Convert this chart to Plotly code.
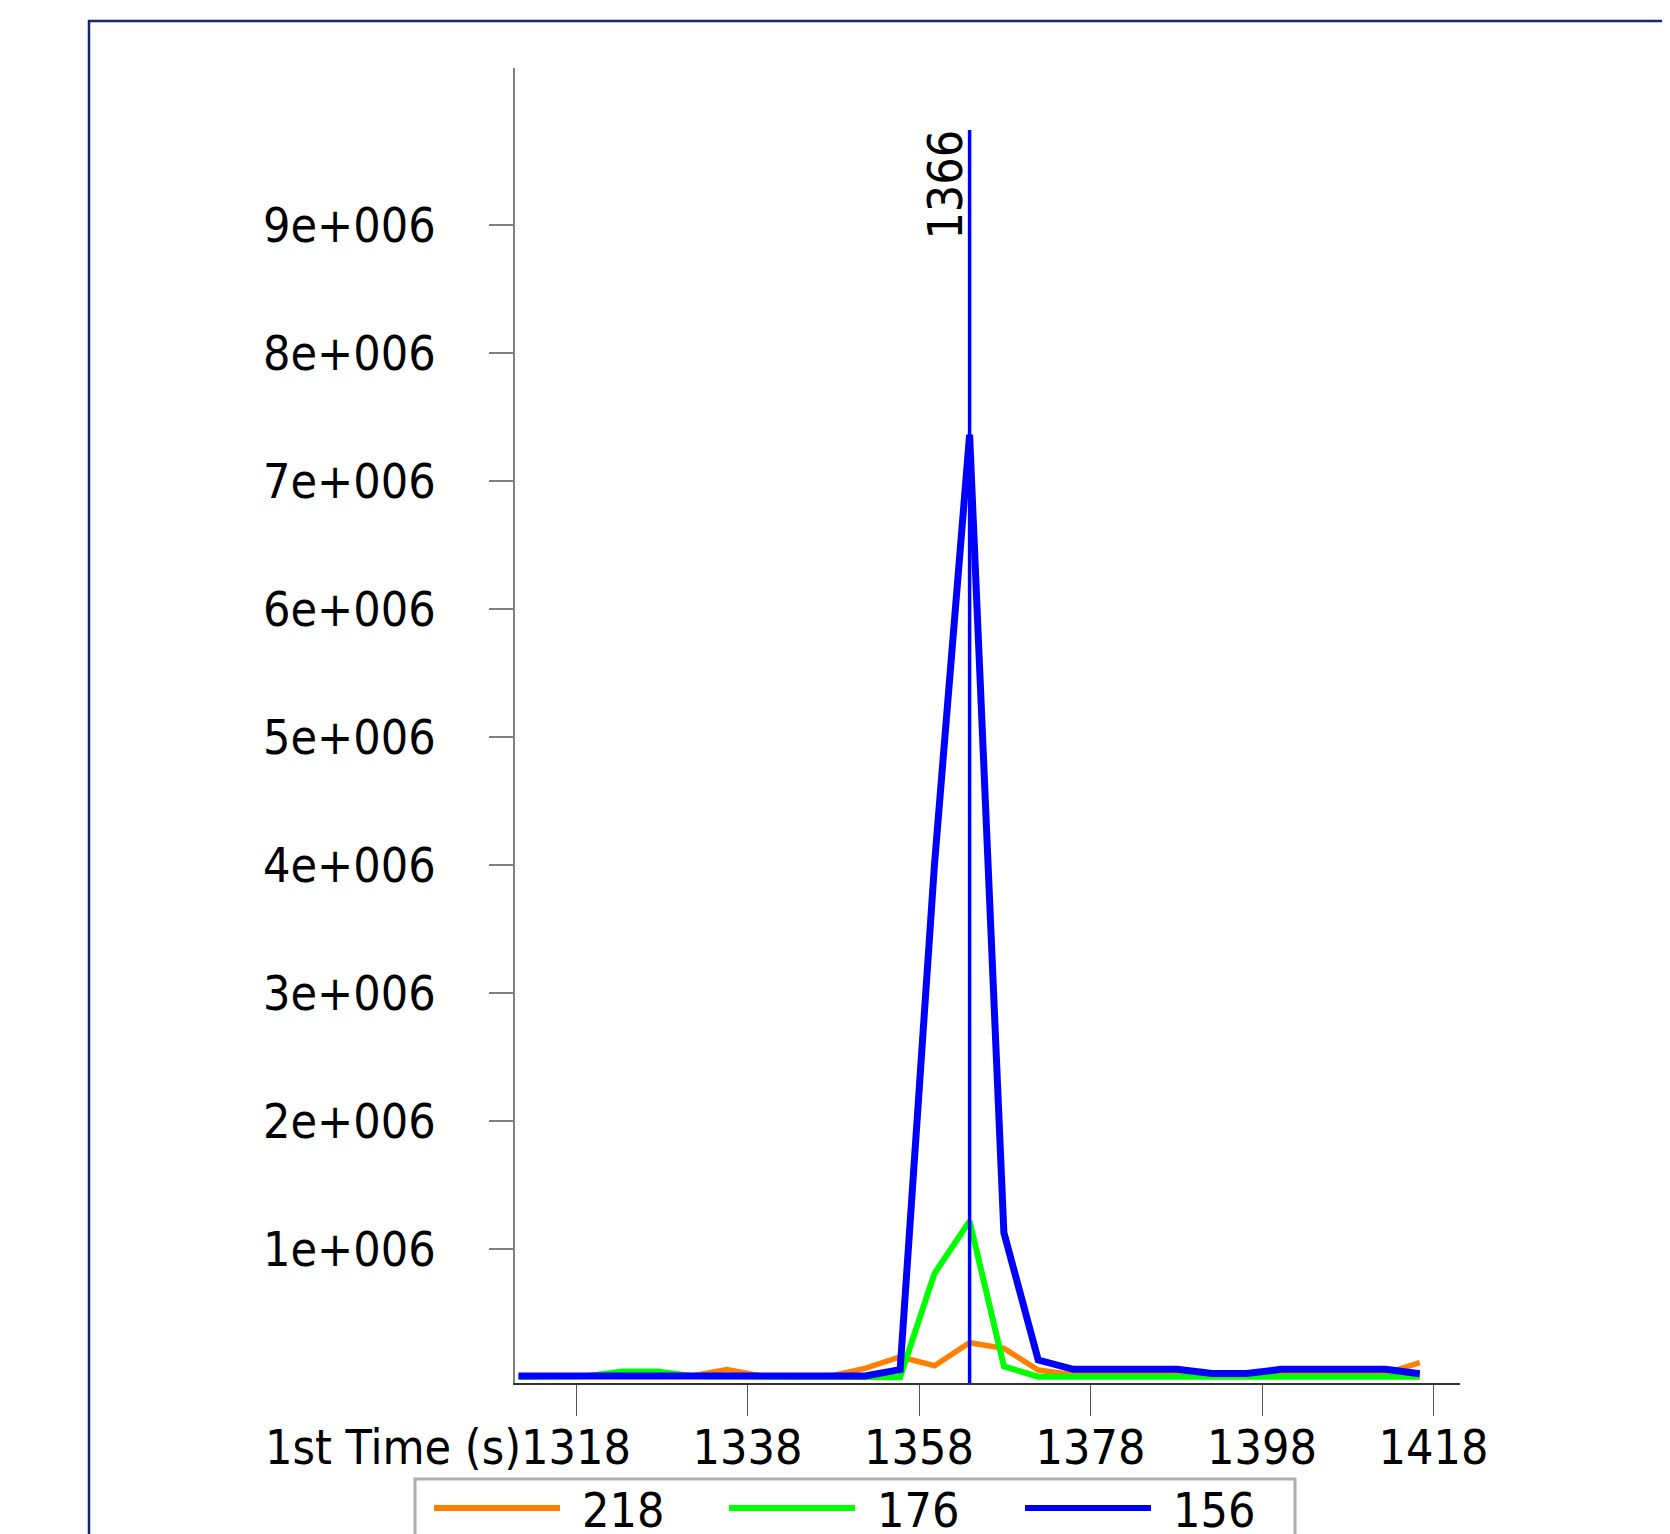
import plotly.graph_objects as go

# ---------------- data ----------------
times = [1311.3, 1315.3, 1319.4, 1323.4, 1327.5, 1331.5, 1335.6, 1339.6, 1343.6,
         1347.7, 1351.7, 1355.8, 1359.8, 1363.9, 1367.9, 1371.9, 1376.0, 1380.0,
         1384.1, 1388.1, 1392.2, 1396.2, 1400.2, 1404.3, 1408.3, 1412.4, 1416.4]

series_names = ["218", "176", "156"]
series_colors = ["#FF8000", "#00FF00", "#0000FF"]

s218 = [10000, 10000, 10000, 10000, 10000, 10000, 60000, 10000, 10000, 10000,
        70000, 160000, 90000, 270000, 226000, 57000, 20000, 20000, 20000, 20000,
        20000, 20000, 20000, 20000, 20000, 30000, 114000]
s176 = [5000, 5000, 10000, 45000, 45000, 10000, 5000, 5000, 5000, 5000,
        0, 0, 810000, 1220000, 85000, 5000, 5000, 5000, 5000, 5000,
        5000, 5000, 5000, 5000, 5000, 5000, 5000]
s156 = [10000, 10000, 10000, 10000, 10000, 10000, 10000, 10000, 10000, 10000,
        10000, 60000, 4000000, 7360000, 1130000, 135000, 62000, 62000, 62000, 62000,
        30000, 30000, 62000, 62000, 62000, 62000, 27000]

x_tick_vals = [1318, 1338, 1358, 1378, 1398, 1418]
x_tick_text = ["1318", "1338", "1358", "1378", "1398", "1418"]
y_tick_vals = [1e6, 2e6, 3e6, 4e6, 5e6, 6e6, 7e6, 8e6, 9e6]
y_tick_text = ["1e+006", "2e+006", "3e+006", "4e+006", "5e+006",
               "6e+006", "7e+006", "8e+006", "9e+006"]
x_title = "1st Time (s)"
peak_label = "1366"

# ---------------- layout constants ----------------
BODY = 8                     # default page margin around the plot div
W, H = 1670 - BODY, 1534 - BODY
ML, MR, MT, MB = 515 - BODY, 210, 68 - BODY, 151
PW, PH = W - ML - MR, H - MT - MB
FONT = "DejaVu Sans Condensed, Liberation Sans, Arial, sans-serif"
FS = 48


def px(x):
    """page pixel x -> paper coordinate"""
    return (x - BODY - ML) / PW


def py(y):
    """page pixel y -> paper coordinate"""
    return (H - MB - (y - BODY)) / PH


fig = go.Figure()
all_series = [s218, s176, s156]
widths = [5.5, 6, 7]
for name, col, vals, w in zip(series_names, series_colors, all_series, widths):
    fig.add_trace(go.Scatter(x=times, y=vals, mode="lines", name=name,
                             line=dict(color=col, width=w), showlegend=False))

# vertical marker at the peak of the last series
peak_idx = s156.index(max(s156))
peak_x = times[peak_idx]

shapes = [
    dict(type="line", xref="x", yref="paper", x0=peak_x, x1=peak_x,
         y0=0, y1=py(130), line=dict(color="#0000FF", width=3.5), layer="above"),
    # outer frame
    dict(type="rect", xref="paper", yref="paper", x0=px(89), x1=px(1700),
         y0=py(1560), y1=py(21), line=dict(color="#14286E", width=2.5),
         fillcolor="rgba(0,0,0,0)", layer="above"),
    # legend box
    dict(type="rect", xref="paper", yref="paper", x0=px(415), x1=px(1295),
         y0=py(1560), y1=py(1479), line=dict(color="#B0B0B0", width=3),
         fillcolor="rgba(0,0,0,0)", layer="above"),
]

annotations = [
    dict(text=peak_label, x=peak_x, xref="x", y=py(128), yref="paper",
         textangle=-90, xanchor="right", yanchor="top", showarrow=False,
         xshift=5, font=dict(family=FONT, size=FS, color="black")),
    dict(text=x_title, x=px(523), xref="paper", y=py(1447), yref="paper",
         xanchor="right", yanchor="middle", showarrow=False,
         font=dict(family=FONT, size=FS, color="black")),
]

# custom legend
leg_sample_x = [434, 729, 1025]
for i, (name, col) in enumerate(zip(series_names, series_colors)):
    x0 = leg_sample_x[i]
    shapes.append(dict(type="line", xref="paper", yref="paper",
                       x0=px(x0), x1=px(x0 + 126), y0=py(1508), y1=py(1508),
                       line=dict(color=col, width=6)))
    annotations.append(dict(text=name, x=px(x0 + 146), xref="paper",
                            y=py(1510), yref="paper", xanchor="left",
                            yanchor="middle", showarrow=False,
                            font=dict(family=FONT, size=FS, color="black")))

fig.update_layout(
    width=W, height=H,
    margin=dict(l=ML, r=MR, t=MT, b=MB, autoexpand=False),
    paper_bgcolor="white", plot_bgcolor="white",
    showlegend=False,
    shapes=shapes, annotations=annotations,
    font=dict(family=FONT, size=FS, color="black"),
)
fig.update_xaxes(range=[1310.886, 1421.09], tickvals=x_tick_vals, ticktext=x_tick_text,
                 showgrid=False, zeroline=False, showline=True, linecolor="#333333",
                 linewidth=2, ticks="outside", ticklen=31, tickcolor="#555555",
                 tickwidth=1, ticklabelstandoff=-10,
                 tickfont=dict(family=FONT, size=FS, color="black"))
fig.update_yaxes(range=[-44500, 10224000], tickvals=y_tick_vals, ticktext=y_tick_text,
                 showgrid=False, zeroline=False, showline=True, linecolor="#808080",
                 linewidth=1.5, ticks="outside", ticklen=24, tickcolor="#808080",
                 tickwidth=1.5, ticklabelstandoff=44,
                 tickfont=dict(family=FONT, size=FS, color="black"))

fig.write_html("out.html")
